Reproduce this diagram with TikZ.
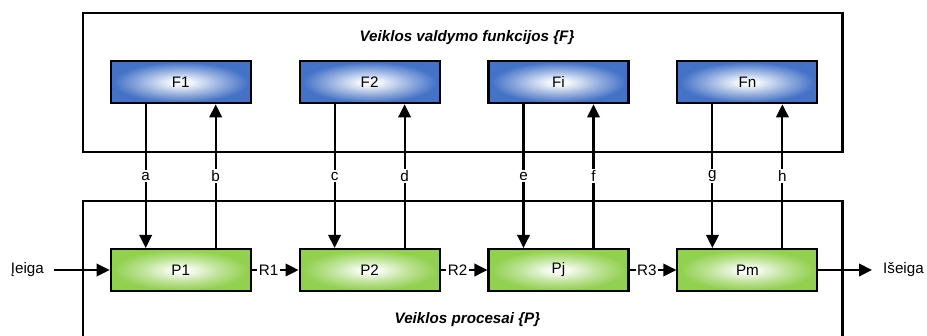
\documentclass[tikz,border=0pt]{standalone}
\usepackage{fontspec}
\setmainfont{Liberation Sans}
\usetikzlibrary{arrows.meta}
\definecolor{fblue}{RGB}{68,114,198}
\definecolor{pgreen}{RGB}{146,208,80}
\pgfdeclareradialshading{fshade}{\pgfpointorigin}{color(0bp)=(white); color(4bp)=(fblue!8); color(14bp)=(fblue!55); color(24bp)=(fblue); color(50bp)=(fblue)}
\pgfdeclareradialshading{pshade}{\pgfpointorigin}{color(0bp)=(white); color(4bp)=(pgreen!10); color(14bp)=(pgreen!60); color(24bp)=(pgreen); color(50bp)=(pgreen)}
\begin{document}
\begin{tikzpicture}[x=1pt,y=-1pt,
  txt/.style={font=\fontsize{15.2}{18}\selectfont},
  frame/.style={draw=black, line width=2.1pt},
  fbox/.style={txt, draw=black, line width=2.1pt, minimum width=140pt, minimum height=42pt, shading=fshade},
  pbox/.style={txt, draw=black, line width=2.1pt, minimum width=140pt, minimum height=42pt, shading=pshade},
  arr/.style={line width=2.1pt, -{Triangle[length=13pt,width=12.5pt]}},
  lbl/.style={txt, fill=white, inner sep=1.5pt},
  title/.style={font=\fontsize{15.2}{18}\selectfont\bfseries\itshape}]
\useasboundingbox (0,0) rectangle (927,335);
% frames
\draw[frame] (83,13.3) rectangle (842.5,151.7);
\draw[frame] (83,345) -- (83,200.7) -- (842.5,200.7) -- (842.5,345);
\node[title] (tt) at (467,38) {Veiklos valdymo funkcijos \{F\}};
\node[title] (bt) at (467.5,320) {Veiklos procesai \{P\}};
% F boxes
\node[fbox] (F1) at (180.7,82.3) {F1};
\node[fbox] (F2) at (369.6,82.3) {F2};
\node[fbox] (F3) at (558.5,82.3) {Fi};
\node[fbox] (F4) at (747.4,82.3) {Fn};
% P boxes
\node[pbox] (P1) at (180.7,270) {P1};
\node[pbox] (P2) at (369.6,270) {P2};
\node[pbox] (P3) at (558.5,270) {Pj};
\node[pbox] (P4) at (747.4,270) {Pm};
% vertical connectors
\draw[arr] ([xshift=-35pt]F1.south) -- node[lbl,pos=0.5] {a} ([xshift=-35pt]P1.north);
\draw[arr] ([xshift=35pt]P1.north) -- node[lbl,pos=0.5] {b} ([xshift=35pt]F1.south);
\draw[arr] ([xshift=-35pt]F2.south) -- node[lbl,pos=0.5] {c} ([xshift=-35pt]P2.north);
\draw[arr] ([xshift=35pt]P2.north) -- node[lbl,pos=0.5] {d} ([xshift=35pt]F2.south);
\draw[arr] ([xshift=-35pt]F3.south) -- node[lbl,pos=0.5] {e} ([xshift=-35pt]P3.north);
\draw[arr] ([xshift=35pt]P3.north) -- node[lbl,pos=0.5] {f} ([xshift=35pt]F3.south);
\draw[arr] ([xshift=-35pt]F4.south) -- node[lbl,pos=0.5] {g} ([xshift=-35pt]P4.north);
\draw[arr] ([xshift=35pt]P4.north) -- node[lbl,pos=0.5] {h} ([xshift=35pt]F4.south);
% horizontal connectors
\node[txt, inner sep=0pt, anchor=east] (in) at (44,270) {Įeiga};
\node[txt, inner sep=0pt, anchor=west] (out) at (883,270) {Išeiga};
\draw[arr, shorten <=10pt] (in.east) -- (P1.west);
\draw[arr] (P1.east) -- node[lbl,pos=0.36] {R1} (P2.west);
\draw[arr] (P2.east) -- node[lbl,pos=0.36] {R2} (P3.west);
\draw[arr] (P3.east) -- node[lbl,pos=0.37] {R3} (P4.west);
\draw[arr, shorten >=11pt] (P4.east) -- (out.west);
\end{tikzpicture}
\end{document}
